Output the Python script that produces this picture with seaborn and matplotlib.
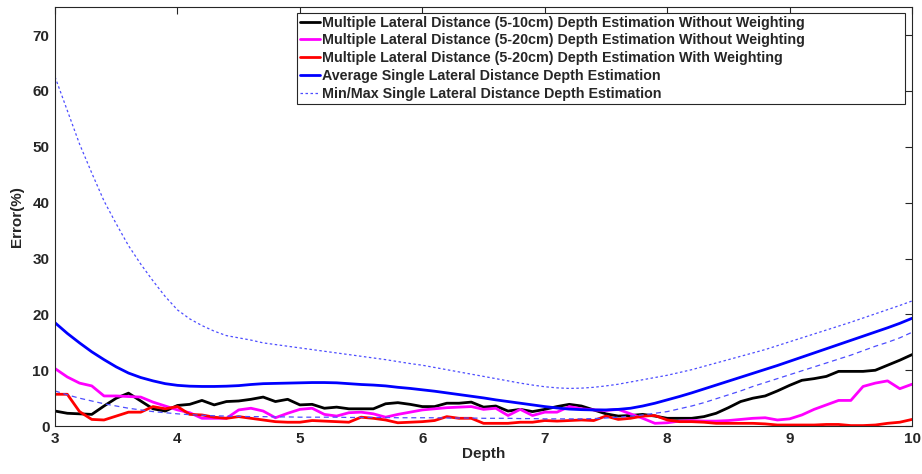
import numpy as np
import pandas as pd
import matplotlib
matplotlib.use("Agg")
import matplotlib.pyplot as plt
import seaborn as sns

depth = [round(3.0 + 0.1 * i, 1) for i in range(71)]

multi_5_10_nw = [2.7, 2.3, 2.2, 2.1, 3.6, 5.0, 5.9, 4.5, 3.1, 2.7,
                 3.7, 3.9, 4.6, 3.8, 4.4, 4.5, 4.8, 5.2, 4.4, 4.8,
                 3.8, 3.9, 3.2, 3.4, 3.1, 3.1, 3.1, 4.0, 4.2, 3.9,
                 3.5, 3.5, 4.1, 4.1, 4.3, 3.4, 3.6, 2.7, 3.0, 2.6,
                 3.0, 3.5, 3.9, 3.6, 2.9, 2.2, 1.8, 1.9, 2.1, 1.8,
                 1.4, 1.4, 1.4, 1.7, 2.3, 3.3, 4.4, 5.0, 5.4, 6.3,
                 7.3, 8.2, 8.5, 8.9, 9.8, 9.8, 9.8, 10.0, 10.9, 11.8,
                 12.8]

multi_5_20_nw = [10.3, 8.8, 7.7, 7.2, 5.4, 5.4, 5.3, 5.2, 4.3, 3.6,
                 2.9, 2.4, 1.4, 1.4, 1.4, 2.9, 3.2, 2.7, 1.5, 2.3,
                 3.0, 3.2, 2.1, 1.8, 2.4, 2.5, 2.2, 1.6, 2.1, 2.5,
                 2.9, 3.1, 3.3, 3.4, 3.5, 3.0, 3.2, 1.9, 3.0, 1.9,
                 2.5, 2.5, 3.5, 3.1, 2.9, 2.8, 3.0, 2.2, 1.4, 0.5,
                 0.6, 0.9, 1.0, 0.9, 0.9, 1.0, 1.2, 1.4, 1.5, 1.1,
                 1.3, 2.0, 3.0, 3.8, 4.6, 4.6, 7.1, 7.7, 8.1, 6.7,
                 7.5]

multi_5_20_w = [5.7, 5.7, 2.6, 1.2, 1.1, 1.8, 2.5, 2.5, 3.5, 3.1,
                3.5, 2.1, 2.0, 1.6, 1.4, 1.7, 1.4, 1.1, 0.8, 0.7,
                0.7, 1.0, 0.9, 0.8, 0.7, 1.6, 1.4, 1.1, 0.6, 0.7,
                0.8, 1.0, 1.7, 1.4, 1.4, 0.5, 0.5, 0.5, 0.7, 0.7,
                1.0, 0.9, 1.0, 1.1, 1.0, 1.8, 1.2, 1.4, 1.8, 1.9,
                1.1, 0.8, 0.8, 0.7, 0.5, 0.5, 0.5, 0.5, 0.4, 0.2,
                0.2, 0.2, 0.2, 0.3, 0.3, 0.1, 0.1, 0.2, 0.5, 0.7,
                1.2]

avg_single = [18.5, 16.6, 14.9, 13.3, 11.9, 10.6, 9.5, 8.7, 8.1, 7.6,
              7.3, 7.15, 7.1, 7.1, 7.15, 7.25, 7.45, 7.6, 7.65, 7.7,
              7.75, 7.8, 7.8, 7.75, 7.6, 7.45, 7.35, 7.2, 6.95, 6.75,
              6.5, 6.25, 5.95, 5.65, 5.35, 5.05, 4.7, 4.4, 4.1, 3.8,
              3.5, 3.25, 3.05, 2.95, 2.9, 2.9, 3.0, 3.2, 3.6, 4.1,
              4.7, 5.3, 5.95, 6.65, 7.35, 8.05, 8.75, 9.45, 10.15, 10.85,
              11.6, 12.35, 13.1, 13.85, 14.6, 15.35, 16.1, 16.85, 17.6, 18.4,
              19.3]

max_single = [62.5, 56.5, 50.5, 45.3, 40.3, 36.2, 32.3, 29.0, 26.0, 23.2,
              20.8, 19.2, 18.0, 17.0, 16.2, 15.8, 15.4, 14.9, 14.6, 14.3,
              14.0, 13.7, 13.4, 13.1, 12.8, 12.5, 12.2, 11.9, 11.55, 11.2,
              10.9, 10.5, 10.1, 9.7, 9.3, 8.9, 8.5, 8.1, 7.7, 7.35,
              7.05, 6.85, 6.75, 6.8, 6.95, 7.2, 7.5, 7.9, 8.3, 8.7,
              9.1, 9.6, 10.1, 10.7, 11.3, 11.9, 12.5, 13.1, 13.7, 14.4,
              15.1, 15.8, 16.5, 17.2, 17.9, 18.6, 19.35, 20.1, 20.85, 21.6,
              22.4]

min_single = [6.3, 5.6, 5.0, 4.5, 4.0, 3.6, 3.2, 2.9, 2.6, 2.4,
              2.2, 2.05, 1.95, 1.85, 1.8, 1.75, 1.7, 1.7, 1.65, 1.65,
              1.6, 1.6, 1.6, 1.6, 1.55, 1.55, 1.55, 1.55, 1.5, 1.5,
              1.5, 1.5, 1.45, 1.45, 1.45, 1.4, 1.4, 1.4, 1.35, 1.35,
              1.3, 1.3, 1.3, 1.3, 1.35, 1.45, 1.6, 1.8, 2.0, 2.3,
              2.6, 3.1, 3.6, 4.2, 4.9, 5.6, 6.3, 7.1, 7.8, 8.5,
              9.2, 9.9, 10.6, 11.3, 12.0, 12.7, 13.5, 14.3, 15.0, 15.8,
              16.8]

labels = ["Multiple Lateral Distance (5-10cm) Depth Estimation Without Weighting",
          "Multiple Lateral Distance (5-20cm) Depth Estimation Without Weighting",
          "Multiple Lateral Distance (5-20cm) Depth Estimation With Weighting",
          "Average Single Lateral Distance Depth Estimation",
          "Min/Max Single Lateral Distance Depth Estimation"]

x_ticks = [3, 4, 5, 6, 7, 8, 9, 10]
y_ticks = [0, 10, 20, 30, 40, 50, 60, 70]

sns.set_style("white")
plt.rcParams['font.family'] = ['Liberation Sans', 'DejaVu Sans']
plt.rcParams['font.weight'] = 'bold'

fig = plt.figure(figsize=(9.22, 4.74), dpi=100)
ax = fig.add_axes([0.0597, 0.101, 0.9295, 0.884])

dash_color = (0.3, 0.3, 1.0)
sns.lineplot(x=depth, y=multi_5_10_nw, color="black", lw=2, ax=ax, label=labels[0])
sns.lineplot(x=depth, y=multi_5_20_nw, color="#ff00ff", lw=2, ax=ax, label=labels[1])
sns.lineplot(x=depth, y=multi_5_20_w, color="#ff0000", lw=2, ax=ax, label=labels[2])
sns.lineplot(x=depth, y=avg_single, color="#0000ff", lw=2, ax=ax, label=labels[3])
sns.lineplot(x=depth, y=max_single, color=dash_color, lw=0.9, ax=ax, label=labels[4])
sns.lineplot(x=depth, y=min_single, color=dash_color, lw=0.9, ax=ax)
for ln in ax.lines[4:6]:
    ln.set_linestyle((0, (4, 3)))

ax.set_xlim(3, 10)
ax.set_ylim(0, 75)
ax.set_xticks(x_ticks)
ax.set_yticks(y_ticks)
ax.tick_params(direction='in', top=True, right=True, length=5, width=0.8,
               labelsize=11, colors='#262626', pad=4)
for lbl in ax.get_xticklabels() + ax.get_yticklabels():
    lbl.set_fontweight('bold')
for sp in ax.spines.values():
    sp.set_visible(True)
    sp.set_color('#262626')
    sp.set_linewidth(0.8)

ax.set_xlabel("Depth", fontsize=11, fontweight='bold', labelpad=1)
ax.set_ylabel("Error(%)", fontsize=11, fontweight='bold', labelpad=6)

handles, hl = ax.get_legend_handles_labels()
for h in handles[4:]:
    h.set_linestyle((0, (2, 2)))
leg = ax.legend(handles, hl, loc='upper left',
                bbox_to_anchor=(0.2824, 0.0, 0.7096, 0.987), mode='expand',
                prop={'weight': 'bold', 'size': 10.3},
                frameon=True, fancybox=False, framealpha=1, edgecolor='#262626',
                handlelength=1.35, handletextpad=0.15, labelspacing=0.26,
                borderpad=0.22, borderaxespad=0.0)
leg.get_frame().set_linewidth(0.8)

fig.savefig("out.png", dpi=100)
